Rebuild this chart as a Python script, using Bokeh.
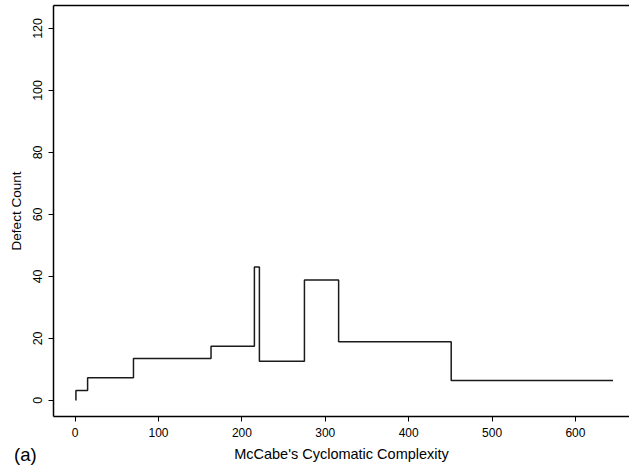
from bokeh.plotting import figure
from bokeh.models import Range1d, LinearAxis, FixedTicker, Div
from bokeh.layouts import column
from bokeh.embed import file_html
from bokeh.resources import INLINE

# step-function data (breakpoints and levels)
complexity = [1, 1, 15, 70, 163, 215, 221, 275, 316, 451, 645]
defects = [0, 3.2, 7.3, 13.5, 17.5, 43, 12.6, 38.8, 18.9, 6.4, 6.4]
x_ticks = [0, 100, 200, 300, 400, 500, 600]
y_ticks = [0, 20, 40, 60, 80, 100, 120]

p = figure(width=629, height=466, output_backend="svg", toolbar_location=None,
           x_range=Range1d(-25.9, 664.8), y_range=Range1d(-5.2, 127.4),
           min_border_left=53, min_border_right=0, min_border_top=5, min_border_bottom=50)
p.outline_line_color = None
p.grid.grid_line_color = None
p.background_fill_color = "white"
p.border_fill_color = "white"

p.step(complexity, defects, mode="after", line_color="#1a1a1a", line_width=1.5)

font = "Liberation Sans"
for ax, ticks, lab, tsize, lsize, lstand in (
        (p.xaxis[0], x_ticks, "McCabe's Cyclomatic Complexity", "12px", "14.5px", 6),
        (p.yaxis[0], y_ticks, "Defect Count", "12.5px", "13.5px", 7)):
    ax.ticker = FixedTicker(ticks=ticks)
    ax.axis_label = lab
    ax.axis_label_text_font = font
    ax.axis_label_text_font_style = "normal"
    ax.axis_label_text_font_size = lsize
    ax.axis_label_text_color = "black"
    ax.axis_label_standoff = lstand
    ax.major_label_text_font = font
    ax.major_label_text_font_size = tsize
    ax.major_label_text_color = "black"
    ax.major_label_standoff = 6
    ax.major_tick_out = 5
    ax.major_tick_in = 0
    ax.major_tick_line_color = "black"
    ax.minor_tick_line_color = None
    ax.axis_line_color = "black"
    ax.axis_line_width = 1.5

p.yaxis[0].major_label_orientation = "vertical"

top = LinearAxis(ticker=FixedTicker(ticks=[]), major_tick_line_color=None,
                 minor_tick_line_color=None, axis_line_color="black", axis_line_width=1.5)
p.add_layout(top, "above")

tag = Div(text='<span style="font-family:\'Liberation Sans\';font-size:18.5px;'
               'line-height:20px;color:black">(a)</span>',
          width=34, height=20, margin=(-21, 0, 0, 14))

layout = column(p, tag, spacing=0)

open("out.html", "w").write(file_html(layout, INLINE))
